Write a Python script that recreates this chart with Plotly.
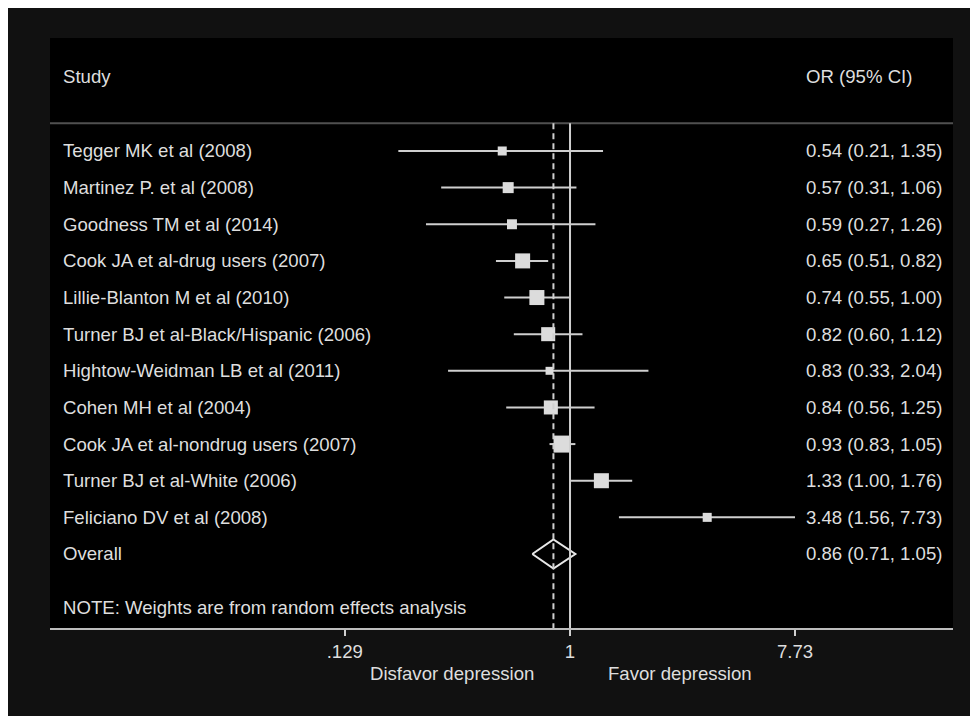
import plotly.graph_objects as go
import math

studies = [
    "Tegger MK et al (2008)",
    "Martinez P. et al (2008)",
    "Goodness TM et al (2014)",
    "Cook JA et al-drug users (2007)",
    "Lillie-Blanton M et al (2010)",
    "Turner BJ et al-Black/Hispanic (2006)",
    "Hightow-Weidman LB et al (2011)",
    "Cohen MH et al (2004)",
    "Cook JA et al-nondrug users (2007)",
    "Turner BJ et al-White (2006)",
    "Feliciano DV et al (2008)",
]
or_est = [0.54, 0.57, 0.59, 0.65, 0.74, 0.82, 0.83, 0.84, 0.93, 1.33, 3.48]
ci_low = [0.21, 0.31, 0.27, 0.51, 0.55, 0.60, 0.33, 0.56, 0.83, 1.00, 1.56]
ci_high = [1.35, 1.06, 1.26, 0.82, 1.00, 1.12, 2.04, 1.25, 1.05, 1.76, 7.73]
weights = [4.5, 6.7, 5.5, 12.5, 12.5, 10.9, 3.5, 10.9, 16.0, 12.5, 4.5]

overall_label = "Overall"
overall_est = 0.86
overall_low = 0.71
overall_high = 1.05

tick_vals = [0.129, 1, 7.73]
tick_text = [".129", "1", "7.73"]

TXT = "#dedede"
LINE = "#cfcfcf"
FONT = "Liberation Sans, Arial, sans-serif"
FS = 18.6

n = len(studies)
rows = list(range(n))
overall_row = n

fig = go.Figure()

# CI lines
xs, ys = [], []
for i in rows:
    xs += [ci_low[i], ci_high[i], None]
    ys += [i, i, None]
fig.add_trace(go.Scatter(x=xs, y=ys, mode="lines",
                         line=dict(color=LINE, width=2), hoverinfo="skip"))

# weight boxes
sizes = [4.25 * math.sqrt(w) for w in weights]
fig.add_trace(go.Scatter(x=or_est, y=rows, mode="markers",
                         marker=dict(symbol="square", size=sizes, color="#dcdcdc",
                                     opacity=1, line=dict(width=0))))

# overall diamond
h = 0.4
fig.add_trace(go.Scatter(
    x=[overall_low, overall_est, overall_high, overall_est, overall_low],
    y=[overall_row, overall_row - h, overall_row, overall_row + h, overall_row],
    mode="lines", line=dict(color="#e8e8e8", width=2), hoverinfo="skip"))

y_top, y_bot = -3.084, 13.02
sep = -0.76

shapes = [
    dict(type="line", xref="paper", x0=0, x1=1, yref="y", y0=sep, y1=sep,
         line=dict(color="#505050", width=2)),
    dict(type="line", xref="x", x0=1, x1=1, yref="y", y0=sep, y1=y_bot,
         line=dict(color="#cfcfcf", width=2)),
    dict(type="line", xref="x", x0=overall_est, x1=overall_est, yref="y", y0=sep, y1=y_bot,
         line=dict(color="#cfcfcf", width=2, dash="6px,4px")),
]

ann = []
def txt(x, y, s, xanchor="left", yref="y", xref="paper"):
    ann.append(dict(x=x, y=y, xref=xref, yref=yref, text=s, showarrow=False,
                    xanchor=xanchor, yanchor="middle",
                    font=dict(family=FONT, size=FS, color=TXT)))

left_x = 0.0122
right_x = 0.835
txt(left_x, -2.02, "Study")
txt(right_x, -2.02, "OR (95% CI)")
for i in rows:
    txt(left_x, i, studies[i])
    txt(right_x, i, f"{or_est[i]:.2f} ({ci_low[i]:.2f}, {ci_high[i]:.2f})")
txt(left_x, overall_row, overall_label)
txt(right_x, overall_row, f"{overall_est:.2f} ({overall_low:.2f}, {overall_high:.2f})")
txt(left_x, 12.47, "NOTE: Weights are from random effects analysis")

txt(0.445, -0.0763, "Disfavor depression", xanchor="center", yref="paper")
txt(0.698, -0.0763, "Favor depression", xanchor="center", yref="paper")

fig.update_layout(
    width=978, height=716,
    margin=dict(l=42, r=33, t=30, b=96),
    paper_bgcolor="#111111",
    plot_bgcolor="#000000",
    showlegend=False,
    shapes=shapes,
    annotations=ann,
    font=dict(family=FONT, size=FS, color=TXT),
    xaxis=dict(type="log", range=[-2.053, 1.512], showgrid=False, zeroline=False,
               tickvals=tick_vals, ticktext=tick_text, ticks="outside", ticklen=6,
               tickwidth=2, tickcolor="#cfcfcf", showline=True, linecolor="#bdbdbd",
               linewidth=2, tickfont=dict(family=FONT, size=FS, color=TXT)),
    yaxis=dict(range=[y_bot, y_top], visible=False, showgrid=False, zeroline=False),
)

fig.write_html("out.html")
